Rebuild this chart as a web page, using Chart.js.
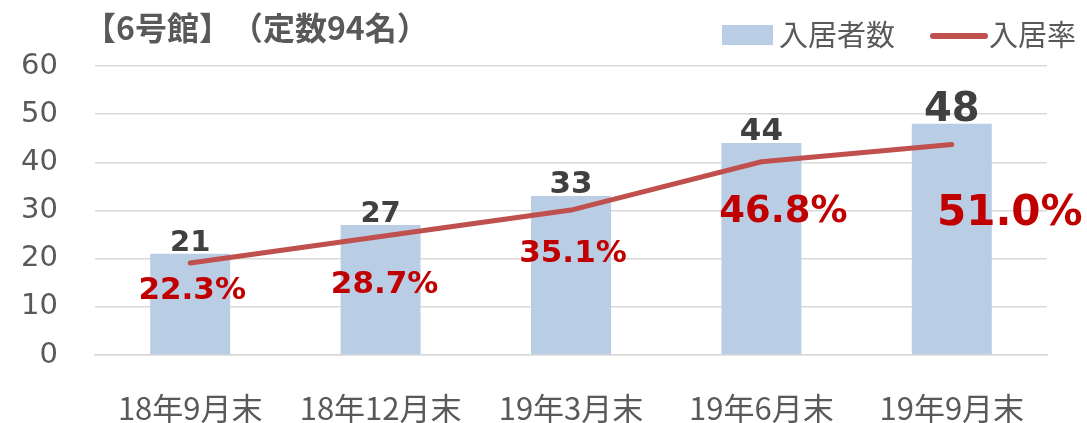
<!DOCTYPE html>
<html>
<head>
<meta charset="utf-8">
<script src="https://cdn.jsdelivr.net/npm/chart.js@4"></script>
<style>
  html, body { margin: 0; padding: 0; background: #fff; }
  #wrap { width: 1087px; height: 423px; }
  canvas { text-spacing-trim: space-all; }
</style>
</head>
<body>
<div id="wrap"><canvas id="myChart" width="1087" height="423"></canvas></div>
<script>
// data
var categories = ['18年9月末', '18年12月末', '19年3月末', '19年6月末', '19年9月末'];
var residents = [21, 27, 33, 44, 48];
var occupancy = [22.3, 28.7, 35.1, 46.8, 51.0];
var yTicks = [0, 10, 20, 30, 40, 50, 60];

var titleText = '【6号館】（定数94名）';
var barName = '入居者数';
var lineName = '入居率';

// label styling (sizes, offsets in px)
var barLabelSize = [29, 29, 31, 31, 40];
var rateLabelSize = [31, 31, 31, 37, 42];
var rateLabelDx = [2, 4, 2, 22, 58];
var rateLabelDy = [36, 56, 52, 60, 81];

var barColor = '#B9CDE5';
var lineColor = '#C0504D';
var textGrey = '#595959';
var numFont = '"DejaVu Sans", sans-serif';
var jpFont = '"Noto Sans CJK JP", sans-serif';

var labelPlugin = {
    id: 'labels',
    afterDatasetsDraw: function(chart) {
        var ctx = chart.ctx;
        ctx.save();
        // bar value labels
        var bars = chart.getDatasetMeta(0).data;
        ctx.textAlign = 'center';
        ctx.textBaseline = 'alphabetic';
        ctx.fillStyle = '#404040';
        bars.forEach(function(el, i) {
            ctx.font = 'bold ' + barLabelSize[i] + 'px ' + numFont;
            ctx.fillText(String(residents[i]), el.x, el.y - 3);
        });
        // rate labels
        var pts = chart.getDatasetMeta(1).data;
        ctx.fillStyle = '#C00000';
        pts.forEach(function(el, i) {
            ctx.font = 'bold ' + rateLabelSize[i] + 'px ' + numFont;
            ctx.fillText(occupancy[i].toFixed(1) + '%', el.x + rateLabelDx[i], el.y + rateLabelDy[i]);
        });
        ctx.restore();
    },
    afterDraw: function(chart) {
        var ctx = chart.ctx;
        ctx.save();
        // title
        ctx.fillStyle = textGrey;
        ctx.textBaseline = 'middle';
        ctx.textAlign = 'left';
        ctx.font = 'bold 32px ' + jpFont;
        ctx.fillText(titleText, 84, 28);
        // legend
        ctx.fillStyle = barColor;
        ctx.fillRect(722, 25, 51, 20);
        ctx.fillStyle = textGrey;
        ctx.font = '29px ' + jpFont;
        ctx.fillText(barName, 779, 35);
        ctx.strokeStyle = lineColor;
        ctx.lineWidth = 6;
        ctx.lineCap = 'round';
        ctx.beginPath();
        ctx.moveTo(933, 36);
        ctx.lineTo(985, 36);
        ctx.stroke();
        ctx.fillText(lineName, 989, 35);
        ctx.restore();
    }
};

var ctx = document.getElementById('myChart').getContext('2d');
var myChart = new Chart(ctx, {
    type: 'bar',
    data: {
        labels: categories,
        datasets: [
            {
                type: 'bar',
                label: barName,
                data: residents,
                backgroundColor: barColor,
                categoryPercentage: 1,
                barPercentage: 0.42,
                yAxisID: 'y',
                order: 1
            },
            {
                type: 'line',
                label: lineName,
                data: occupancy,
                borderColor: lineColor,
                borderWidth: 5,
                borderCapStyle: 'round',
                pointRadius: 0,
                tension: 0,
                fill: false,
                yAxisID: 'y1',
                order: 0
            }
        ]
    },
    options: {
        responsive: false,
        animation: false,
        layout: { padding: { top: 66, right: 40, left: 0, bottom: 0 } },
        plugins: {
            legend: { display: false },
            title: { display: false },
            tooltip: { enabled: false }
        },
        scales: {
            x: {
                grid: { display: false },
                border: { display: true, color: '#D9D9D9', width: 1.5 },
                ticks: {
                    color: textGrey,
                    font: { family: jpFont, size: 31 },
                    padding: 27,
                    maxRotation: 0,
                    autoSkip: false
                },
                afterFit: function(scale) { scale.height = 68; }
            },
            y: {
                min: 0,
                max: 60,
                afterBuildTicks: function(scale) {
                    scale.ticks = yTicks.map(function(v) { return { value: v }; });
                },
                grid: { color: '#D9D9D9', lineWidth: 1.5, drawTicks: false },
                border: { display: false },
                ticks: {
                    color: textGrey,
                    font: { family: numFont, size: 29 },
                    padding: 37
                },
                afterFit: function(scale) { scale.width = 95; }
            },
            y1: {
                display: false,
                min: 0,
                max: 70,
                position: 'right',
                grid: { display: false }
            }
        }
    },
    plugins: [labelPlugin]
});
</script>
</body>
</html>
